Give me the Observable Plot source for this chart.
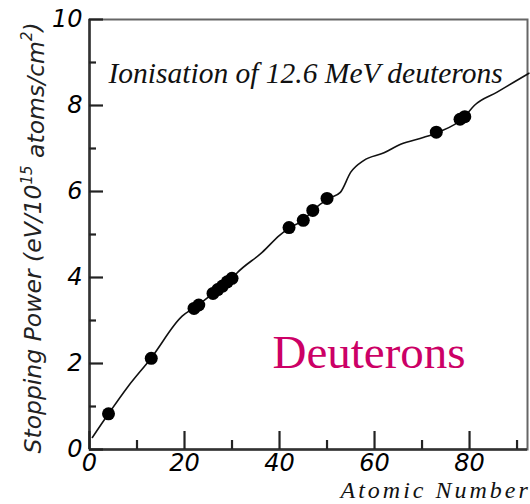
<!DOCTYPE html>
<html>
<head>
<meta charset="utf-8">
<script src="https://cdn.jsdelivr.net/npm/d3@7"></script>
<script src="https://cdn.jsdelivr.net/npm/@observablehq/plot@0.6"></script>
<style>
  html, body { margin: 0; padding: 0; background: #fff; }
  svg { display: block; }
</style>
</head>
<body>
<div id="chart"></div>
<script>
// Smooth reference curve (atomic number Z, stopping power)
const curveZ = [0.6, 4, 8, 13, 19.5, 22.5, 26, 30, 31, 36.4, 40, 42, 45, 47, 50.4, 52.8, 55, 57.7, 62, 65.5, 70.4, 73.5, 78.8, 81, 85.8, 89.3, 92.5];
const curveS = [0.28, 0.83, 1.45, 2.13, 3.1, 3.33, 3.63, 3.98, 4.1, 4.59, 4.98, 5.15, 5.33, 5.56, 5.84, 5.98, 6.45, 6.72, 6.9, 7.1, 7.26, 7.38, 7.72, 8.0, 8.31, 8.54, 8.75];

// Measured points
const pointZ = [4, 13, 22, 23, 26, 27, 28, 29, 30, 42, 45, 47, 50, 73, 78, 79];
const pointS = [0.83, 2.12, 3.28, 3.36, 3.63, 3.72, 3.8, 3.9, 3.98, 5.16, 5.33, 5.56, 5.84, 7.38, 7.68, 7.74];

// Ticks
const xMajor = [0, 20, 40, 60, 80];
const xMinor = [10, 30, 50, 70, 90];
const yMajor = [0, 2, 4, 6, 8, 10];
const yMinor = [1, 3, 5, 7, 9];

// Texts
const titleText = "Ionisation of 12.6 MeV deuterons";
const badgeText = "Deuterons";
const xLabelText = "Atomic Number";
const yLabelParts = ["Stopping Power (eV/10", "15", " atoms/cm", "2", ")"];

const curve = curveZ.map((z, i) => ({z, s: curveS[i]}));
const points = pointZ.map((z, i) => ({z, s: pointS[i]}));

const W = 530, H = 504, mL = 89, mR = 3, mT = 19, mB = 55;
const frameW = W - mL - mR, frameH = H - mT - mB;

const tickFont = {fontSize: 24, fontStyle: "italic", fontFamily: "DejaVu Sans"};
const tickStyle = {stroke: "#222", strokeWidth: 2.2};

const svg = Plot.plot({
  width: W,
  height: H,
  marginLeft: mL,
  marginRight: mR,
  marginTop: mT,
  marginBottom: mB,
  style: {background: "white", overflow: "visible"},
  x: {domain: [0, 92.2]},
  y: {domain: [0, 10]},
  marks: [
    Plot.frame({stroke: "#666", strokeWidth: 2}),
    Plot.ruleX([0], {stroke: "#333", strokeWidth: 2.5}),
    Plot.ruleY([0], {stroke: "#333", strokeWidth: 2.5}),
    Plot.axisX({ticks: xMajor, tickSize: 0, tickPadding: 4, label: null, ...tickFont}),
    Plot.axisY({ticks: yMajor, tickSize: 0, tickPadding: 7, label: null, ...tickFont}),
    Plot.line(curve, {x: "z", y: "s", curve: "monotone-x", stroke: "#111", strokeWidth: 1.6}),
    Plot.dot(points, {x: "z", y: "s", r: 6.5, fill: "black", stroke: "none"}),
    // inward ticks (drawn on top)
    Plot.tickX(xMajor, {x: d => d, insetTop: frameH - 18, ...tickStyle}),
    Plot.tickX(xMinor, {x: d => d, insetTop: frameH - 9, ...tickStyle}),
    Plot.tickY(yMajor, {y: d => d, insetRight: frameW - 14, ...tickStyle}),
    Plot.tickY(yMinor, {y: d => d, insetRight: frameW - 7, ...tickStyle}),
    Plot.text([titleText], {frameAnchor: "top-left", dx: 19, dy: 63, textAnchor: "start", lineAnchor: "bottom",
      fontSize: 29.5, fontStyle: "italic", fontFamily: "Liberation Serif", fill: "#111"}),
    Plot.text([badgeText], {frameAnchor: "top-left", dx: 183, dy: 348, textAnchor: "start", lineAnchor: "bottom",
      fontSize: 47, fontFamily: "Liberation Serif", fill: "#CC0066"}),
    Plot.text([xLabelText], {frameAnchor: "bottom-left", dx: 251, dy: 48, textAnchor: "start", lineAnchor: "bottom",
      fontSize: 24, fontStyle: "italic", fontFamily: "Liberation Serif", fill: "#111"}),
    Plot.text([yLabelParts.join("")], {frameAnchor: "bottom-left", dx: -49, dy: 4, rotate: -90, textAnchor: "start", lineAnchor: "bottom",
      fontSize: 23.5, fontStyle: "italic", fontFamily: "DejaVu Sans", fill: "#222"})
  ]
});

// letter spacing for the x label, superscripts for the y label
d3.select(svg).selectAll("text").each(function () {
  const t = d3.select(this);
  const content = this.textContent;
  if (content === xLabelText) t.style("letter-spacing", "3px");
  if (content === yLabelParts.join("")) {
    t.text(null);
    t.append("tspan").text(yLabelParts[0]);
    t.append("tspan").attr("baseline-shift", "9").attr("font-size", 15).text(yLabelParts[1]);
    t.append("tspan").attr("baseline-shift", "-3").text(yLabelParts[2]);
    t.append("tspan").attr("baseline-shift", "9").attr("font-size", 15).text(yLabelParts[3]);
    t.append("tspan").text(yLabelParts[4]);
  }
});

document.getElementById("chart").appendChild(svg);
</script>
</body>
</html>
